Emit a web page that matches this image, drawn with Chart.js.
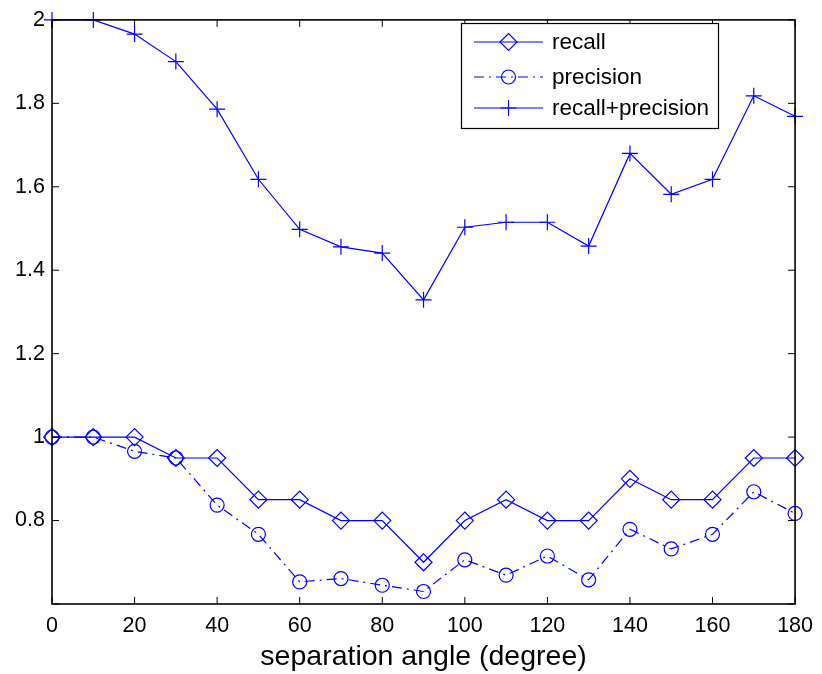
<!DOCTYPE html>
<html>
<head>
<meta charset="utf-8">
<script src="https://cdn.jsdelivr.net/npm/chart.js@4.4.1/dist/chart.umd.min.js"></script>
<style>
  html, body { margin: 0; padding: 0; background: #fff; }
  #wrap { width: 822px; height: 674px; position: relative; }
</style>
</head>
<body>
<div id="wrap"><canvas id="c" width="822" height="674"></canvas></div>
<script>
// data
const angles = [0, 10, 20, 30, 40, 50, 60, 70, 80, 90, 100, 110, 120, 130, 140, 150, 160, 170, 180];
const recall = [1.0, 1.0, 1.0, 0.95, 0.95, 0.85, 0.85, 0.8, 0.8, 0.7, 0.8, 0.85, 0.8, 0.8, 0.9, 0.85, 0.85, 0.95, 0.95];
const precision = [1.0, 1.0, 0.966, 0.95, 0.837, 0.767, 0.653, 0.661, 0.645, 0.630, 0.706, 0.669, 0.715, 0.658, 0.779, 0.732, 0.767, 0.869, 0.817];
const recallPlusPrecision = [2.0, 2.0, 1.966, 1.9, 1.786, 1.618, 1.498, 1.456, 1.441, 1.329, 1.503, 1.515, 1.515, 1.458, 1.680, 1.582, 1.618, 1.818, 1.769];
const seriesNames = ['recall', 'precision', 'recall+precision'];
const xTitle = 'separation angle (degree)';

const BLUE = '#0000ff';
const SANS = "'Liberation Sans', Arial, Helvetica, sans-serif";

const pts = (ys) => angles.map((a, i) => ({ x: a, y: ys[i] }));

const base = {
    borderColor: BLUE, borderWidth: 1.2, pointBorderColor: BLUE,
    pointBackgroundColor: 'rgba(0,0,0,0)', pointBorderWidth: 1.2,
    tension: 0, clip: false, fill: false
};

// MATLAB-style box with inward ticks on all four sides
const boxPlugin = {
    id: 'matBox',
    afterDatasetsDraw(chart) {
        const { ctx, chartArea: a, scales } = chart;
        ctx.save();
        ctx.strokeStyle = '#000';
        ctx.lineWidth = 1.6;
        ctx.strokeRect(a.left, a.top, a.right - a.left, a.bottom - a.top);
        ctx.lineWidth = 1;
        const len = 7;
        ctx.beginPath();
        scales.x.ticks.forEach(t => {
            const px = scales.x.getPixelForValue(t.value);
            ctx.moveTo(px, a.bottom); ctx.lineTo(px, a.bottom - len);
            ctx.moveTo(px, a.top); ctx.lineTo(px, a.top + len);
        });
        scales.y.ticks.forEach(t => {
            const py = scales.y.getPixelForValue(t.value);
            ctx.moveTo(a.left, py); ctx.lineTo(a.left + len, py);
            ctx.moveTo(a.right, py); ctx.lineTo(a.right - len, py);
        });
        ctx.stroke();
        ctx.restore();
    }
};

// legend box like MATLAB's
const legendPlugin = {
    id: 'matLegend',
    afterDraw(chart) {
        const { ctx } = chart;
        const x0 = 461, y0 = 23, w = 257, h = 105;
        ctx.save();
        ctx.fillStyle = '#fff';
        ctx.fillRect(x0, y0, w, h);
        ctx.strokeStyle = '#000';
        ctx.lineWidth = 1.2;
        ctx.strokeRect(x0 + 0.5, y0 + 0.5, w, h);
        const rows = [42, 77, 108];
        chart.data.datasets.forEach((ds, i) => {
            const y = rows[i];
            ctx.strokeStyle = ds.borderColor;
            ctx.lineWidth = ds.borderWidth;
            ctx.setLineDash(ds.borderDash || []);
            ctx.beginPath();
            ctx.moveTo(474, y); ctx.lineTo(543, y);
            ctx.stroke();
            ctx.setLineDash([]);
            ctx.fillStyle = 'rgba(0,0,0,0)';
            ctx.lineWidth = ds.pointBorderWidth;
            Chart.helpers.drawPoint(ctx, { pointStyle: ds.pointStyle, radius: ds.pointRadius, borderWidth: ds.pointBorderWidth, rotation: 0 }, 508.5, y);
            ctx.fillStyle = '#000';
            ctx.font = '22.5px ' + SANS;
            ctx.textBaseline = 'middle';
            ctx.fillText(ds.label, 552, y + 1);
        });
        ctx.restore();
    }
};

new Chart(document.getElementById('c').getContext('2d'), {
    type: 'line',
    data: {
        datasets: [
            { ...base, label: seriesNames[0], data: pts(recall), pointStyle: 'rectRot', pointRadius: 8.5, pointHoverRadius: 8.5 },
            { ...base, label: seriesNames[1], data: pts(precision), pointStyle: 'circle', pointRadius: 7, pointHoverRadius: 7, borderDash: [10, 5, 2, 5] },
            { ...base, label: seriesNames[2], data: pts(recallPlusPrecision), pointStyle: 'cross', pointRadius: 8, pointHoverRadius: 8 }
        ]
    },
    options: {
        responsive: false,
        animation: false,
        layout: { padding: { top: 14, right: 25, left: 0, bottom: 0 } },
        plugins: { legend: { display: false }, tooltip: { enabled: false } },
        scales: {
            x: {
                type: 'linear', min: 0, max: 180,
                ticks: { stepSize: 20, color: '#000', font: { family: SANS, size: 21.5 }, padding: 9, maxRotation: 0 },
                grid: { display: false, drawTicks: false }, border: { display: false },
                title: { display: true, text: xTitle, color: '#000', font: { family: SANS, size: 28.5 }, padding: { top: 0, bottom: 0 } },
                afterFit: (s) => { s.height = 70; }
            },
            y: {
                type: 'linear', min: 0.6, max: 2,
                ticks: {
                    stepSize: 0.2, color: '#000', font: { family: SANS, size: 21.5 }, padding: 7,
                    callback: (v) => v < 0.7 ? '' : String(+v.toFixed(1))
                },
                grid: { display: false, drawTicks: false }, border: { display: false },
                afterFit: (s) => { s.width = 52; }
            }
        }
    },
    plugins: [boxPlugin, legendPlugin]
});
</script>
</body>
</html>
